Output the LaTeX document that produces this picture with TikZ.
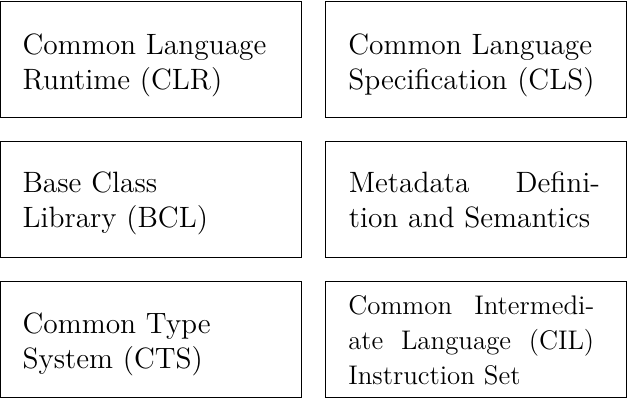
\documentclass[tikz,border=0pt]{standalone}
\usetikzlibrary{calc}
% looser, more forgiving word spacing for the justified panels
\newcommand\loosejust{\tolerance=9999\relax\emergencystretch=2em\relax
  \spaceskip=0.333em plus 0.6em minus 0.2em\relax}
\tikzset{
  panel/.style={draw, line width=0.45pt, rectangle, anchor=north west,
    inner sep=0pt, outer sep=0pt, minimum width=126.4pt, minimum height=48.5pt},
  boxtext/.style={anchor=base west, inner sep=0pt, outer sep=0pt,
    font=\fontsize{12.35}{14.7}\selectfont, text width=105.5pt},
  ragged/.style={boxtext, align=left},
  justified/.style={boxtext, align=justify},
  smalljustified/.style={justified, font=\fontsize{11.3}{14.7}\selectfont,
    text width=103.3pt},
}
\begin{document}
\begin{tikzpicture}[x=0.42pt, y=-0.42pt]
  \useasboundingbox (0,0) rectangle (628,398);
  % the six panels, two columns by three rows
  \node (clr) [panel] at (0.6,1.6) {};
  \node (cls) [panel] at (325.8,1.6) {};
  \node (bcl) [panel] at (0.6,141.6) {};
  \node (meta) [panel] at (325.8,141.6) {};
  \node (cts) [panel] at (0.6,281.6) {};
  \node (cil) [panel] at (325.8,281.6) {};
  % their texts
  \node (clrtext) [ragged] at ($(clr.north west)+(22,53.4)$) {Common Language\\Runtime (CLR)};
  \node (clstext) [ragged] at ($(cls.north west)+(22.5,53.4)$) {Common Language\\Specification (CLS)};
  \node (bcltext) [ragged] at ($(bcl.north west)+(22,51.4)$) {Base Class\\Library (BCL)};
  \node (metatext) [justified] at ($(meta.north west)+(23,51.4)$) {\loosejust Metadata Defini-\linebreak tion and Semantics};
  \node (ctstext) [ragged] at ($(cts.north west)+(22,52.4)$) {Common Type\\System (CTS)};
  \node (ciltext) [smalljustified] at ($(cil.north west)+(22.5,33.4)$) {\loosejust Common Intermedi-\linebreak ate Language (CIL)\linebreak Instruction Set};
\end{tikzpicture}
\end{document}
